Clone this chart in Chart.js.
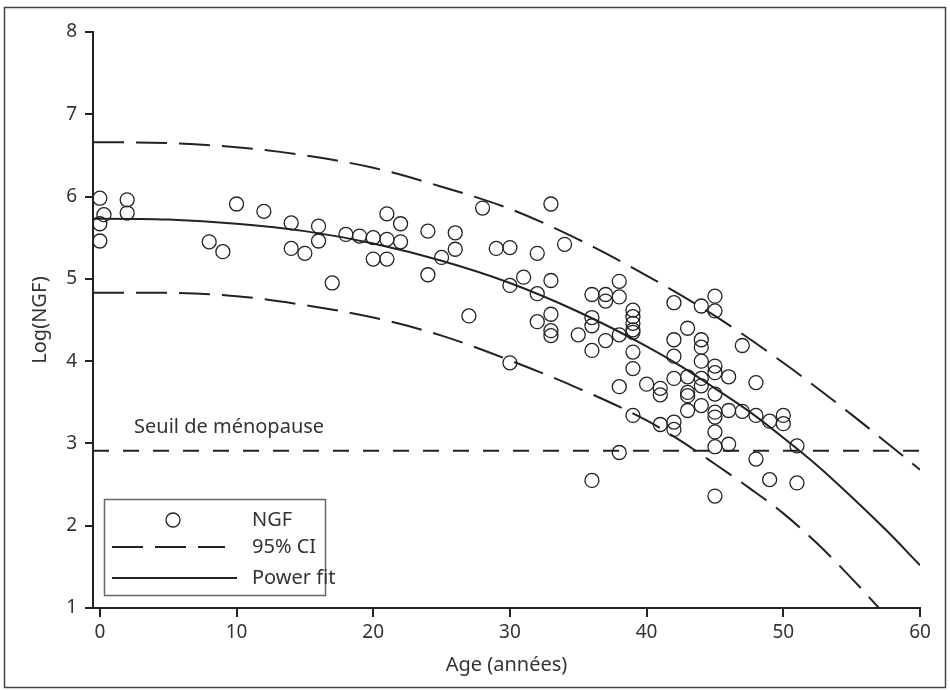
<!DOCTYPE html>
<html>
<head>
<meta charset="utf-8">
<script src="https://cdn.jsdelivr.net/npm/chart.js@4/dist/chart.umd.min.js"></script>
<style>
  html, body { margin: 0; padding: 0; background: #fff; }
  #wrap { width: 950px; height: 691px; position: relative; }
</style>
</head>
<body>
<div id="wrap"><canvas id="chart" width="950" height="691"></canvas></div>
<script>
// NGF measurements (age in years, log NGF)
const ngfAge = [
  0, 0.3, 0, 0, 2, 2, 8, 9, 10, 12, 14, 14, 15, 16, 16, 17, 18, 19, 20, 20,
  21, 21, 21, 22, 22, 24, 24, 25, 26, 26, 27, 28, 29, 30, 30, 30, 31, 32, 32, 32,
  33, 33, 33, 33, 33, 34, 35, 36, 36, 36, 36, 36, 37, 37, 37, 38, 38, 38, 38, 38,
  39, 39, 39, 39, 39, 39, 39, 39, 40, 41, 41, 41, 42, 42, 42, 42, 42, 42,
  43, 43, 43, 43, 43, 44, 44, 44, 44, 44, 44, 44,
  45, 45, 45, 45, 45, 45, 45, 45, 45, 45, 46, 46, 46, 47, 47, 48, 48, 48,
  49, 49, 50, 50, 51, 51
];
const ngfLog = [
  5.98, 5.78, 5.67, 5.46, 5.96, 5.80, 5.45, 5.33, 5.91, 5.82, 5.68, 5.37, 5.31, 5.64, 5.46, 4.95, 5.54, 5.52, 5.50, 5.24,
  5.79, 5.48, 5.24, 5.67, 5.45, 5.58, 5.05, 5.26, 5.56, 5.36, 4.55, 5.86, 5.37, 5.38, 4.92, 3.98, 5.02, 5.31, 4.82, 4.48,
  5.91, 4.98, 4.57, 4.37, 4.31, 5.42, 4.32, 4.81, 4.53, 4.43, 4.13, 2.55, 4.81, 4.73, 4.25, 4.97, 4.78, 4.32, 3.69, 2.89,
  4.62, 4.54, 4.46, 4.38, 4.35, 4.11, 3.91, 3.34, 3.72, 3.67, 3.59, 3.23, 4.71, 4.26, 4.06, 3.79, 3.26, 3.17,
  4.40, 3.81, 3.62, 3.58, 3.40, 4.67, 4.26, 4.17, 4.00, 3.79, 3.70, 3.46,
  4.79, 4.61, 3.94, 3.86, 3.60, 3.38, 3.32, 3.14, 2.96, 2.36, 3.81, 3.40, 2.99, 4.19, 3.39, 3.74, 3.34, 2.81,
  3.27, 2.56, 3.34, 3.24, 2.97, 2.52
];

// curves
const fitAge   = [-0.5, 0, 5, 10, 15, 20, 25, 30, 35, 40, 42.5, 45, 47.5, 50, 52.5, 55, 57.5, 60];
const fitLog   = [5.73, 5.73, 5.72, 5.67, 5.58, 5.43, 5.22, 4.95, 4.60, 4.18, 3.94, 3.67, 3.39, 3.07, 2.73, 2.35, 1.95, 1.52];
const ciUpAge  = [-0.5, 0, 5, 10, 15, 20, 25, 30, 35, 40, 45, 50, 55, 60];
const ciUpper  = [6.66, 6.66, 6.65, 6.60, 6.50, 6.35, 6.12, 5.85, 5.48, 5.04, 4.55, 3.98, 3.35, 2.68];
const ciLowAge = [-0.5, 0, 5, 10, 15, 20, 25, 30, 35, 40, 42.5, 45, 47.5, 50, 52.5, 55, 57];
const ciLower  = [4.83, 4.83, 4.83, 4.79, 4.68, 4.53, 4.31, 4.01, 3.67, 3.28, 3.03, 2.75, 2.46, 2.15, 1.78, 1.36, 1.0];
const seuilAge = [-0.5, 60];
const seuilLog = [2.91, 2.91];

const xTicks = [0, 10, 20, 30, 40, 50, 60];
const yTicks = [1, 2, 3, 4, 5, 6, 7, 8];

const INK = '#222';
const TXT = '#333';
const FONT = '"Noto Sans", "DejaVu Sans", sans-serif';

const toXY = (xs, ys) => xs.map((x, i) => ({ x, y: ys[i] }));

const framePlugin = {
  id: 'frame',
  beforeDraw(chart) {
    const ctx = chart.ctx;
    ctx.save();
    ctx.fillStyle = '#fff';
    ctx.fillRect(0, 0, chart.width, chart.height);
    ctx.strokeStyle = '#444';
    ctx.lineWidth = 1.5;
    ctx.strokeRect(4.5, 7.5, 941, 680);
    ctx.restore();
  },
  afterDraw(chart) {
    const ctx = chart.ctx;
    const xs = chart.scales.x, ys = chart.scales.y;
    ctx.save();
    ctx.fillStyle = TXT;
    ctx.font = '20px ' + FONT;
    ctx.textBaseline = 'middle';
    ctx.textAlign = 'left';
    ctx.fillText('Seuil de ménopause', xs.getPixelForValue(2.5), ys.getPixelForValue(3.2));

    // legend box
    const L = chart.chartArea.left + 11, T = 499;
    ctx.strokeStyle = '#666';
    ctx.lineWidth = 1.5;
    ctx.fillStyle = '#fff';
    ctx.fillRect(L, T, 221, 96);
    ctx.strokeRect(L + 0.5, T + 0.5, 221, 96);

    ctx.strokeStyle = INK;
    ctx.lineWidth = 1.3;
    ctx.beginPath();
    ctx.arc(L + 69, T + 21, 7, 0, Math.PI * 2);
    ctx.stroke();

    ctx.lineWidth = 2;
    ctx.setLineDash([31, 12]);
    ctx.beginPath();
    ctx.moveTo(L + 8, T + 48);
    ctx.lineTo(L + 121, T + 48);
    ctx.stroke();
    ctx.setLineDash([]);
    ctx.beginPath();
    ctx.moveTo(L + 8, T + 79);
    ctx.lineTo(L + 133, T + 79);
    ctx.stroke();

    ctx.fillStyle = TXT;
    ctx.fillText('NGF', L + 148, T + 21);
    ctx.fillText('95% CI', L + 148, T + 48);
    ctx.fillText('Power fit', L + 148, T + 79);
    ctx.restore();
  }
};

new Chart(document.getElementById('chart'), {
  type: 'scatter',
  data: {
    datasets: [
      {
        label: 'NGF',
        data: toXY(ngfAge, ngfLog),
        pointRadius: 7,
        pointHoverRadius: 7,
        pointBorderWidth: 1.3,
        borderColor: INK,
        backgroundColor: 'rgba(0,0,0,0)'
      },
      {
        label: 'Power fit',
        data: toXY(fitAge, fitLog),
        showLine: true,
        pointRadius: 0,
        borderColor: INK,
        borderWidth: 2,
        cubicInterpolationMode: 'monotone'
      },
      {
        label: '95% CI',
        data: toXY(ciUpAge, ciUpper),
        showLine: true,
        pointRadius: 0,
        borderColor: INK,
        borderWidth: 2,
        borderDash: [31, 12],
        cubicInterpolationMode: 'monotone'
      },
      {
        label: '95% CI (bas)',
        data: toXY(ciLowAge, ciLower),
        showLine: true,
        pointRadius: 0,
        borderColor: INK,
        borderWidth: 2,
        borderDash: [31, 12],
        cubicInterpolationMode: 'monotone'
      },
      {
        label: 'Seuil de ménopause',
        data: toXY(seuilAge, seuilLog),
        showLine: true,
        pointRadius: 0,
        borderColor: INK,
        borderWidth: 2,
        borderDash: [16, 14]
      }
    ]
  },
  options: {
    responsive: false,
    animation: false,
    events: [],
    layout: { padding: { top: 32, right: 30, left: 0, bottom: 0 } },
    plugins: {
      legend: { display: false },
      tooltip: { enabled: false }
    },
    scales: {
      x: {
        type: 'linear',
        min: -0.5,
        max: 60,
        afterFit: s => { s.height = 83; },
        afterBuildTicks: s => { s.ticks = xTicks.map(v => ({ value: v })); },
        grid: { drawOnChartArea: false, tickLength: 9, color: INK, lineWidth: 2 },
        border: { color: INK, width: 2 },
        ticks: { color: TXT, font: { family: FONT, size: 19 }, padding: 4, maxRotation: 0 },
        title: {
          display: true,
          text: 'Age (années)',
          color: TXT,
          font: { family: FONT, size: 20 },
          padding: { top: 0, bottom: 14 }
        }
      },
      y: {
        type: 'linear',
        min: 1,
        max: 8,
        afterFit: s => { s.width = 93; },
        afterBuildTicks: s => { s.ticks = yTicks.map(v => ({ value: v })); },
        grid: { drawOnChartArea: false, tickLength: 8, color: INK, lineWidth: 2 },
        border: { color: INK, width: 2 },
        ticks: { color: TXT, font: { family: FONT, size: 19 }, padding: 8 },
        title: {
          display: true,
          text: 'Log(NGF)',
          color: TXT,
          font: { family: FONT, size: 20 },
          padding: { top: 28, bottom: 0 }
        }
      }
    }
  },
  plugins: [framePlugin]
});
</script>
</body>
</html>
